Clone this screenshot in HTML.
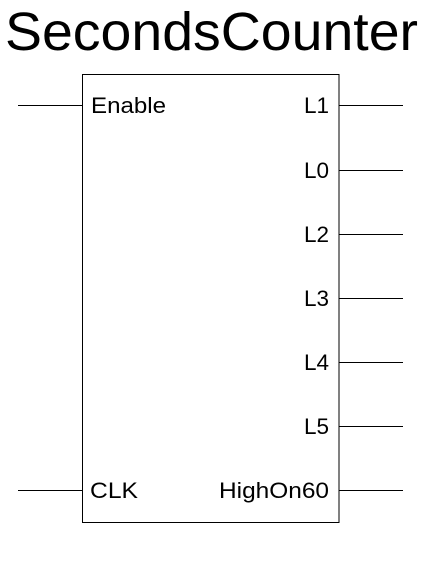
<html><body style="margin:0;width:442px;height:574px;background:#fff;position:relative;overflow:hidden;font-family:'Liberation Sans',Arial,sans-serif;">
<svg width="442" height="574" style="position:absolute;left:0;top:0" font-family="Liberation Sans, Arial, sans-serif">
<text x="5" y="50" font-size="54" textLength="413" lengthAdjust="spacingAndGlyphs">SecondsCounter</text>
<rect x="82.5" y="74.5" width="256.5" height="448" fill="none" stroke="#000" stroke-width="1"/>
<g stroke="#000" stroke-width="1">
<line x1="18" y1="105.5" x2="82" y2="105.5"/>
<line x1="18" y1="490.5" x2="82" y2="490.5"/>
<line x1="339" y1="105.5" x2="403" y2="105.5"/>
<line x1="339" y1="170.5" x2="403" y2="170.5"/>
<line x1="339" y1="234.5" x2="403" y2="234.5"/>
<line x1="339" y1="298.5" x2="403" y2="298.5"/>
<line x1="339" y1="362.5" x2="403" y2="362.5"/>
<line x1="339" y1="426.5" x2="403" y2="426.5"/>
<line x1="339" y1="490.5" x2="403" y2="490.5"/>
</g>
<g font-size="22.5">
<text x="91" y="113" textLength="75" lengthAdjust="spacingAndGlyphs">Enable</text>
<text x="90" y="498" textLength="48" lengthAdjust="spacingAndGlyphs">CLK</text>
<g text-anchor="end">
<text x="329" y="113">L1</text>
<text x="329" y="178">L0</text>
<text x="329" y="242">L2</text>
<text x="329" y="306">L3</text>
<text x="329" y="370">L4</text>
<text x="329" y="434">L5</text>
</g>
<text x="219" y="498" textLength="110" lengthAdjust="spacingAndGlyphs">HighOn60</text>
</g>
</svg>
</body></html>
